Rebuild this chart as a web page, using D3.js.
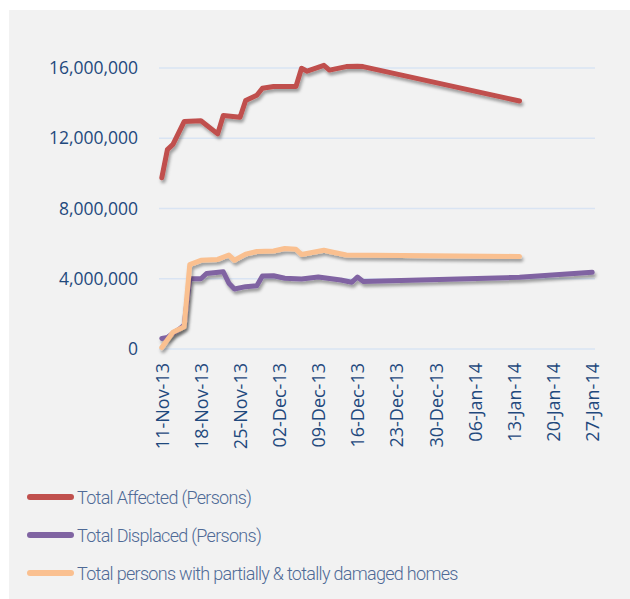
<!DOCTYPE html>
<html>
<head>
<meta charset="utf-8">
<script src="https://cdn.jsdelivr.net/npm/d3@7"></script>
<style>
  body { margin: 0; background: #fff; }
  svg { display: block; }
</style>
</head>
<body>
<div id="graph"></div>
<script>
// values (persons)
var affectedDates = ['2013-11-11','2013-11-12','2013-11-13','2013-11-15','2013-11-18','2013-11-21','2013-11-22',
  '2013-11-25','2013-11-26','2013-11-28','2013-11-29','2013-12-01','2013-12-05','2013-12-06','2013-12-07',
  '2013-12-10','2013-12-11','2013-12-14','2013-12-16','2013-12-17','2014-01-14']
var affectedValues = [9.75e6, 11.35e6, 11.65e6, 12.95e6, 13.0e6, 12.25e6, 13.3e6,
  13.2e6, 14.15e6, 14.45e6, 14.85e6, 14.95e6, 14.95e6, 15.98e6, 15.82e6,
  16.15e6, 15.88e6, 16.08e6, 16.1e6, 16.08e6, 14.12e6]

var displacedDates = ['2013-11-11','2013-11-12','2013-11-13','2013-11-14','2013-11-15','2013-11-16','2013-11-18',
  '2013-11-19','2013-11-22','2013-11-23','2013-11-24','2013-11-26','2013-11-28','2013-11-29','2013-12-01',
  '2013-12-03','2013-12-06','2013-12-09','2013-12-13','2013-12-15','2013-12-16','2013-12-17','2014-01-14','2014-01-27']
var displacedValues = [0.6e6, 0.65e6, 0.9e6, 1.1e6, 1.35e6, 4.0e6, 4.0e6,
  4.3e6, 4.4e6, 3.75e6, 3.42e6, 3.55e6, 3.6e6, 4.15e6, 4.17e6,
  4.03e6, 3.99e6, 4.1e6, 3.93e6, 3.8e6, 4.1e6, 3.85e6, 4.08e6, 4.37e6]

var damagedDates = ['2013-11-11','2013-11-13','2013-11-15','2013-11-16','2013-11-18','2013-11-21','2013-11-23',
  '2013-11-24','2013-11-26','2013-11-28','2013-12-01','2013-12-03','2013-12-05','2013-12-06','2013-12-10',
  '2013-12-11','2013-12-14','2014-01-14']
var damagedValues = [0.08e6, 0.95e6, 1.27e6, 4.8e6, 5.05e6, 5.1e6, 5.35e6,
  5.05e6, 5.4e6, 5.55e6, 5.58e6, 5.72e6, 5.68e6, 5.38e6, 5.62e6,
  5.55e6, 5.35e6, 5.27e6]

var seriesNames = ['Total Affected (Persons)', 'Total Displaced (Persons)', 'Total persons with partially & totally damaged homes']
var seriesColors = ['#c0504d', '#8064a2', '#fac090']

var xTickLabels = ['11-Nov-13','18-Nov-13','25-Nov-13','02-Dec-13','09-Dec-13','16-Dec-13',
  '23-Dec-13','30-Dec-13','06-Jan-14','13-Jan-14','20-Jan-14','27-Jan-14']
var yTicks = [0, 4e6, 8e6, 12e6, 16e6]

var parseDate = d3.timeParse('%Y-%m-%d')
var parseTick = d3.timeParse('%d-%b-%y')

var series = [
  {dates: affectedDates, values: affectedValues},
  {dates: displacedDates, values: displacedValues},
  {dates: damagedDates, values: damagedValues}
].map((s, i) => ({
  name: seriesNames[i],
  color: seriesColors[i],
  points: s.dates.map((d, j) => ({date: parseDate(d), value: s.values[j]}))
}))

var W = 630, H = 599
var margin = {left: 159, top: 68, right: 35, bottom: 250}
var width = W - margin.left - margin.right
var height = H - margin.top - margin.bottom

var svg = d3.select('#graph').append('svg').attr('width', W).attr('height', H)

var defs = svg.append('defs')
var shadow = defs.append('filter').attr('id', 'shadow')
  .attr('x', '-10%').attr('y', '-10%').attr('width', '120%').attr('height', '130%')
shadow.append('feDropShadow')
  .attr('dx', 1.5).attr('dy', 3).attr('stdDeviation', 1.6)
  .attr('flood-color', '#000').attr('flood-opacity', 0.35)

// grey panel
svg.append('rect').attr('x', 9).attr('y', 10).attr('width', W - 9).attr('height', H - 10)
  .attr('fill', '#f2f2f2')

var firstTick = parseTick(xTickLabels[0])
var lastTick = parseTick(xTickLabels[xTickLabels.length - 1])
var x = d3.scaleTime()
  .domain([d3.timeHour.offset(firstTick, -12), d3.timeHour.offset(lastTick, 12)])
  .range([0, width])
var y = d3.scaleLinear().domain([0, 16e6]).range([height, 0])

var g = svg.append('g').attr('transform', `translate(${margin.left},${margin.top})`)

// gridlines
g.append('g').selectAll('line').data(yTicks).join('line')
  .attr('x1', 0).attr('x2', width)
  .attr('y1', d => y(d)).attr('y2', d => y(d))
  .attr('stroke', '#d9e4f3').attr('stroke-width', 1.6)

// y axis
var yAxis = g.append('g')
  .call(d3.axisLeft(y).tickValues(yTicks).tickSize(0).tickPadding(21).tickFormat(d3.format(',')))
yAxis.select('.domain').remove()
yAxis.selectAll('text')
  .attr('fill', '#1f497d').style('font-family', '"Open Sans", sans-serif').style('font-size', '17.5px')

// x axis
var xAxis = g.append('g').attr('transform', `translate(0,${height})`)
  .call(d3.axisBottom(x).tickValues(xTickLabels.map(parseTick)).tickSize(0).tickFormat(d3.timeFormat('%d-%b-%y')))
xAxis.select('.domain').remove()
xAxis.selectAll('text')
  .attr('fill', '#1f497d').style('font-family', '"Open Sans", sans-serif').style('font-size', '18px')
  .attr('transform', 'rotate(-90)')
  .attr('text-anchor', 'end')
  .attr('x', -14).attr('y', 0).attr('dy', '0.35em')

// lines
var line = d3.line().x(d => x(d.date)).y(d => y(d.value))
g.append('g').selectAll('path').data(series).join('path')
  .attr('d', d => line(d.points))
  .attr('fill', 'none')
  .attr('stroke', d => d.color)
  .attr('stroke-width', 5)
  .attr('stroke-linejoin', 'round')
  .attr('stroke-linecap', 'round')
  .attr('filter', 'url(#shadow)')

// legend
var legend = svg.append('g').selectAll('g').data(series).join('g')
  .attr('transform', (d, i) => `translate(0,${497 + i * 38})`)
legend.append('line')
  .attr('x1', 30).attr('x2', 71)
  .attr('stroke', d => d.color).attr('stroke-width', 6).attr('stroke-linecap', 'round')
legend.append('text')
  .attr('x', 77).attr('dy', '0.4em')
  .attr('fill', '#4f6a96')
  .style('font-family', 'Roboto, sans-serif').style('font-weight', 300).style('font-size', '18px')
  .style('letter-spacing', '-0.7px')
  .text(d => d.name)
</script>
</body>
</html>
